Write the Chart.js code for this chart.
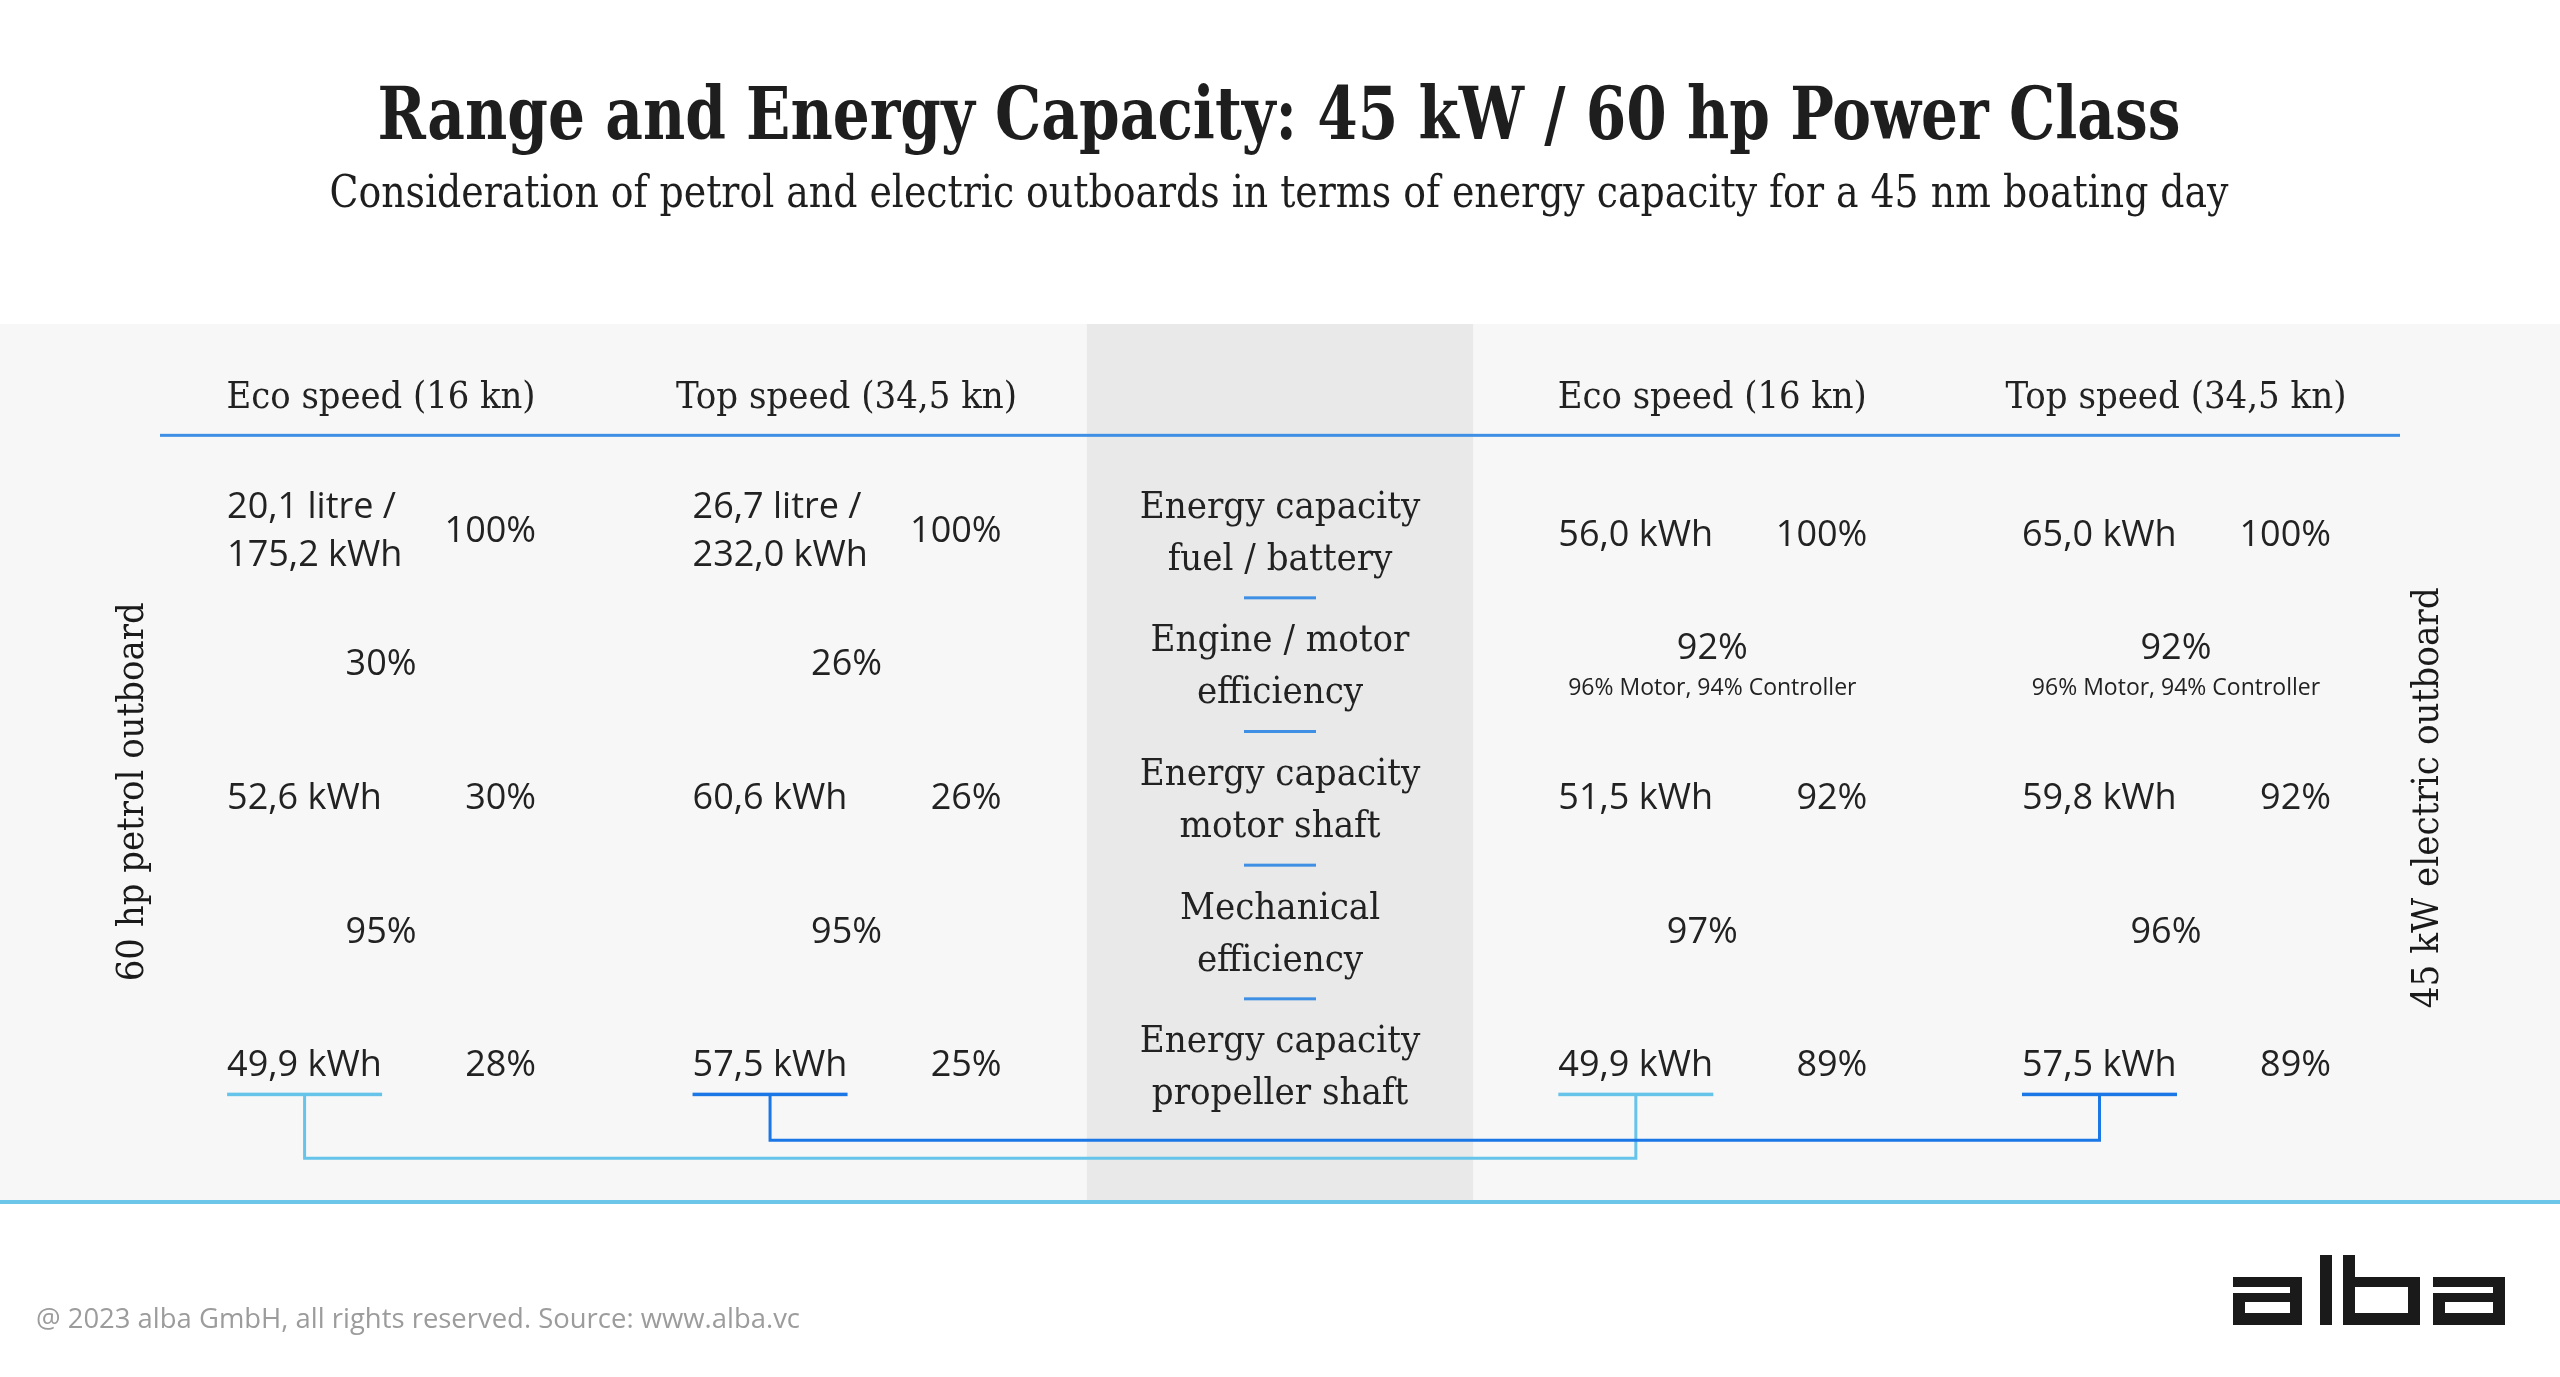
<!DOCTYPE html>
<html><head><meta charset="utf-8">
<script src="https://cdn.jsdelivr.net/npm/chart.js@4.4.1/dist/chart.umd.min.js"></script>
<style>html,body{margin:0;padding:0;background:#fff;overflow:hidden}#wrap{width:2560px;height:1377px}</style>
</head><body><div id="wrap"><canvas id="c" width="2560" height="1377"></canvas></div>
<script>
// ---------- data ----------
const titleText = 'Range and Energy Capacity: 45 kW / 60 hp Power Class';
const subtitleText = 'Consideration of petrol and electric outboards in terms of energy capacity for a 45 nm boating day';
const footerText = '@ 2023 alba GmbH, all rights reserved. Source: www.alba.vc';
const sideLabels = ['60 hp petrol outboard', '45 kW electric outboard'];
const speedHeaders = ['Eco speed (16 kn)', 'Top speed (34,5 kn)'];
const rowKeys = ['header', 'fuel', 'engine', 'motorShaft', 'mechanical', 'propeller'];
const stageLabels = [
  ['Energy capacity', 'fuel / battery'],
  ['Engine / motor', 'efficiency'],
  ['Energy capacity', 'motor shaft'],
  ['Mechanical', 'efficiency'],
  ['Energy capacity', 'propeller shaft']
];
const petrolFuelLitre = [20.1, 26.7];
const petrolFuelKWh = [175.2, 232.0];
const petrolEngineEff = [30, 26];
const petrolMotorShaftKWh = [52.6, 60.6];
const petrolMechEff = [95, 95];
const petrolPropKWh = [49.9, 57.5];
const petrolPropPct = [28, 25];
const electricBatteryKWh = [56.0, 65.0];
const electricMotorEff = [92, 92];
const electricMotorPart = [96, 96];
const electricControllerPart = [94, 94];
const electricMotorShaftKWh = [51.5, 59.8];
const electricMechEff = [97, 96];
const electricPropKWh = [49.9, 57.5];
const electricPropPct = [89, 89];
const basePct = 100;

// ---------- layout (not data) ----------
const colKeys = ['petrolEco', 'petrolTop', 'stage', 'electricEco', 'electricTop'];
const colPos = [9.87, 30.65, 50, 69.3, 90];
const SERIF = '"DejaVu Serif Condensed", "DejaVu Serif", serif';
const SERIF_WIDE = '"DejaVu Serif", serif';
const SANS = '"Open Sans", sans-serif';
const INK = '#222222';
const LINE_BLUE = '#3f8fe4';
const LIGHT_BLUE = '#66c3ea';
const DARK_BLUE = '#1b77e6';

function fmt(v) { return v.toFixed(1).replace('.', ','); }
function pc(v) { return v + '%'; }

const headerCells = [], valueCells = [], pctCells = [], effCells = [], stageCells = [];
[0, 1].forEach(s => {
  headerCells.push({ col: s, row: 0, lines: [speedHeaders[s]] });
  headerCells.push({ col: 3 + s, row: 0, lines: [speedHeaders[s]] });
  // petrol
  valueCells.push({ col: s, row: 1, lines: [fmt(petrolFuelLitre[s]) + ' litre /', fmt(petrolFuelKWh[s]) + ' kWh'] });
  pctCells.push({ col: s, row: 1, lines: [pc(basePct)] });
  effCells.push({ col: s, row: 2, lines: [pc(petrolEngineEff[s])] });
  valueCells.push({ col: s, row: 3, lines: [fmt(petrolMotorShaftKWh[s]) + ' kWh'] });
  pctCells.push({ col: s, row: 3, lines: [pc(petrolEngineEff[s])] });
  effCells.push({ col: s, row: 4, lines: [pc(petrolMechEff[s])] });
  valueCells.push({ col: s, row: 5, lines: [fmt(petrolPropKWh[s]) + ' kWh'], link: s, side: 'p' });
  pctCells.push({ col: s, row: 5, lines: [pc(petrolPropPct[s])] });
  // electric
  valueCells.push({ col: 3 + s, row: 1, lines: [fmt(electricBatteryKWh[s]) + ' kWh'], dy: 4 });
  pctCells.push({ col: 3 + s, row: 1, lines: [pc(basePct)], dy: 4 });
  effCells.push({ col: 3 + s, row: 2, lines: [pc(electricMotorEff[s])],
    sub: pc(electricMotorPart[s]) + ' Motor, ' + pc(electricControllerPart[s]) + ' Controller' });
  valueCells.push({ col: 3 + s, row: 3, lines: [fmt(electricMotorShaftKWh[s]) + ' kWh'] });
  pctCells.push({ col: 3 + s, row: 3, lines: [pc(electricMotorEff[s])] });
  effCells.push({ col: 3 + s, row: 4, lines: [pc(electricMechEff[s])], dx: -10 });
  valueCells.push({ col: 3 + s, row: 5, lines: [fmt(electricPropKWh[s]) + ' kWh'], link: s, side: 'e' });
  pctCells.push({ col: 3 + s, row: 5, lines: [pc(electricPropPct[s])] });
});
stageLabels.forEach((l, i) => stageCells.push({ col: 2, row: i + 1, lines: l }));

function ds(kind, cells) {
  return {
    label: kind, kind: kind, cells: cells,
    data: cells.map(c => ({ x: colPos[c.col], y: rowKeys[c.row] })),
    pointRadius: 0, pointHoverRadius: 0, showLine: false
  };
}

function txt(ctx, s, x, y, font, color, align, maxW) {
  ctx.font = font; ctx.fillStyle = color; ctx.textAlign = align; ctx.textBaseline = 'alphabetic';
  if (maxW) ctx.fillText(s, x, y, maxW); else ctx.fillText(s, x, y);
}

const VAL_FONT = '36px ' + SANS;

const tablePlugin = {
  id: 'table',
  beforeDraw(chart) {
    const { ctx, chartArea: a, scales } = chart;
    const W = chart.width;
    ctx.save();
    ctx.fillStyle = '#ffffff'; ctx.fillRect(0, 0, W, chart.height);
    const panelTop = a.top - 4, panelBot = a.bottom + 70;
    ctx.fillStyle = '#f7f7f7'; ctx.fillRect(0, panelTop, W, panelBot - panelTop);
    const mx = scales.x.getPixelForValue(colPos[2]);
    const half = (scales.x.getPixelForValue(colPos[2] + 8.62) - mx);
    ctx.fillStyle = '#e9e9e9'; ctx.fillRect(mx - half, panelTop, half * 2, panelBot - panelTop);
    ctx.fillStyle = '#6cc6ea'; ctx.fillRect(0, panelBot, W, 4);
    const hy = scales.y.getPixelForValue(0) + 40;
    ctx.fillStyle = LINE_BLUE; ctx.fillRect(a.left, hy - 1, a.right - a.left, 3);
    ctx.restore();
  },
  afterDatasetsDraw(chart) {
    const { ctx, scales } = chart;
    ctx.save();
    const links = [{}, {}];
    chart.data.datasets.forEach((d, i) => {
      const meta = chart.getDatasetMeta(i);
      meta.data.forEach((el, j) => {
        const c = d.cells[j], x = el.x + (c.dx || 0), y = el.y + (c.dy || 0);
        if (d.kind === 'header') {
          txt(ctx, c.lines[0], x, y + 13, '38px ' + SERIF, INK, 'center', c.lines[0].length > 17 ? 341 : 309);
        } else if (d.kind === 'stage') {
          txt(ctx, c.lines[0], x, y - 11, '38px ' + SERIF, INK, 'center', 290);
          txt(ctx, c.lines[1], x, y + 41, '38px ' + SERIF, INK, 'center', 290);
        } else if (d.kind === 'value') {
          if (c.lines.length === 2) {
            txt(ctx, c.lines[0], x - 154, y - 11, VAL_FONT, INK, 'left');
            txt(ctx, c.lines[1], x - 154, y + 37, VAL_FONT, INK, 'left');
          } else {
            txt(ctx, c.lines[0], x - 154, y + 13, VAL_FONT, INK, 'left');
          }
          if (c.link !== undefined) links[c.link][c.side] = { x: x - 154, y: y };
        } else if (d.kind === 'pct') {
          txt(ctx, c.lines[0], x + 155, y + 13, VAL_FONT, INK, 'right');
        } else if (d.kind === 'eff') {
          if (c.sub) {
            txt(ctx, c.lines[0], x, y - 3, VAL_FONT, INK, 'center');
            txt(ctx, c.sub, x, y + 33, '23px ' + SANS, INK, 'center');
          } else {
            txt(ctx, c.lines[0], x, y + 13, VAL_FONT, INK, 'center');
          }
        }
      });
    });
    const mx = scales.x.getPixelForValue(colPos[2]);
    ctx.fillStyle = LINE_BLUE;
    for (let r = 1; r < rowKeys.length - 1; r++) {
      const yy = (scales.y.getPixelForValue(r) + scales.y.getPixelForValue(r + 1)) / 2 + 2;
      ctx.fillRect(mx - 36, yy - 1, 72, 3);
    }
    const colors = [LIGHT_BLUE, DARK_BLUE];
    const drops = [95, 77];
    links.forEach((L, s) => {
      if (!L.p || !L.e) return;
      ctx.strokeStyle = colors[s]; ctx.fillStyle = colors[s];
      const uy = L.p.y + 31;
      ctx.fillRect(L.p.x, uy - 1.5, 155, 3.5);
      ctx.fillRect(L.e.x, uy - 1.5, 155, 3.5);
      const pcx = L.p.x + 77.5, ecx = L.e.x + 77.5, by = L.p.y + drops[s];
      ctx.lineWidth = 3; ctx.lineJoin = 'miter';
      ctx.beginPath();
      ctx.moveTo(pcx, uy); ctx.lineTo(pcx, by); ctx.lineTo(ecx, by); ctx.lineTo(ecx, uy);
      ctx.stroke();
    });
    ctx.restore();
  },
  afterDraw(chart) {
    const { ctx, chartArea: a, scales } = chart;
    ctx.save();
    const cx = chart.width / 2;
    txt(ctx, titleText, cx - 1, 139, 'bold 72px ' + SERIF, '#1e1e1e', 'center', 1803);
    txt(ctx, subtitleText, cx - 1, 207, '45px ' + SERIF, '#1e1e1e', 'center', 1899);
    const midY = scales.y.getPixelForValue(3);
    [[a.left - 27, 0], [a.right + 28, 1]].forEach(([x, i]) => {
      ctx.save();
      ctx.translate(x, midY + (i === 0 ? -4 : 2));
      ctx.rotate(-Math.PI / 2);
      ctx.font = '38px ' + SERIF_WIDE; ctx.fillStyle = '#1a1a1a'; ctx.textAlign = 'center'; ctx.textBaseline = 'middle';
      ctx.fillText(sideLabels[i], 0, 0, i === 0 ? 379 : 421);
      ctx.restore();
    });
    txt(ctx, footerText, 36, 1328, '27.5px ' + SANS, '#9c9c9c', 'left', 764);
    ctx.fillStyle = '#1a1a1a';
    const t = 12, top = 1255, xTop = 1277, bot = 1325, mid = 1293;
    const aGlyph = (x0, x1) => {
      ctx.fillRect(x0, xTop, x1 - x0, 10);
      ctx.fillRect(x1 - t, xTop, t, bot - xTop);
      ctx.fillRect(x0, mid, x1 - x0, 9);
      ctx.fillRect(x0, mid, t, bot - mid);
      ctx.fillRect(x0, bot - 12, x1 - x0, 12);
    };
    aGlyph(2233, 2302);
    ctx.fillRect(2320, top, t, bot - top);
    ctx.fillRect(2343, top, t, bot - top);
    ctx.fillRect(2343, xTop, 77, 10);
    ctx.fillRect(2408, xTop, t, bot - xTop);
    ctx.fillRect(2343, bot - 12, 77, 12);
    aGlyph(2433, 2505);
    ctx.restore();
  }
};

function build() {
  new Chart(document.getElementById('c'), {
    type: 'scatter',
    data: {
      datasets: [
        ds('header', headerCells), ds('stage', stageCells), ds('value', valueCells),
        ds('pct', pctCells), ds('eff', effCells)
      ]
    },
    options: {
      responsive: false, animation: false, devicePixelRatio: 1,
      layout: { padding: { left: 160, right: 160, top: 328, bottom: 247 } },
      plugins: { legend: { display: false }, tooltip: { enabled: false }, title: { display: false } },
      events: [],
      scales: {
        x: { type: 'linear', min: 0, max: 100, display: false },
        y: { type: 'category', labels: rowKeys, offset: true, display: false }
      }
    },
    plugins: [tablePlugin]
  });
}
const fontLoads = ['36px "Open Sans"', '38px "DejaVu Serif"', 'bold 72px "DejaVu Serif"', '38px "DejaVu Serif Condensed"', 'bold 72px "DejaVu Serif Condensed"']
  .map(f => document.fonts.load(f).catch(() => null));
Promise.all(fontLoads).then(build, build);
</script>
</body></html>
